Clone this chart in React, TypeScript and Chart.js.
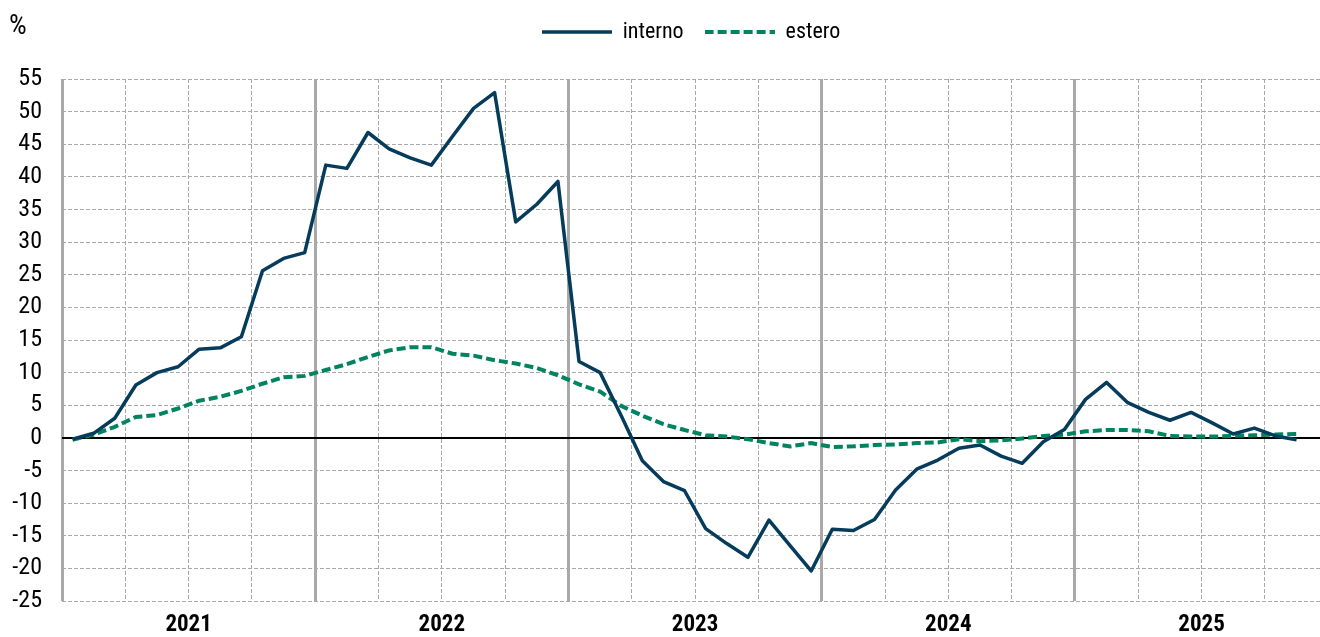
import React, { useEffect, useRef } from 'react';
import { Chart, registerables } from 'chart.js';

Chart.register(...registerables);

const FONT = "'Roboto Condensed', 'Liberation Sans', Arial, sans-serif";

// monthly observations, Jan 2021 .. Nov 2025
const yearLabels = ['2021', '2022', '2023', '2024', '2025'];

const interno = [
  -0.2, 0.7, 3.0, 8.1, 10.0, 10.9, 13.6, 13.8, 15.5, 25.6, 27.5, 28.4,
  41.8, 41.3, 46.8, 44.3, 42.9, 41.8, 46.2, 50.5, 52.9, 33.1, 35.8, 39.3,
  11.7, 10.0, 3.4, -3.5, -6.7, -8.1, -13.9, -16.2, -18.3, -12.6, -16.5, -20.4,
  -14.0, -14.2, -12.5, -8.0, -4.8, -3.4, -1.6, -1.1, -2.8, -3.9, -0.6, 1.3,
  5.9, 8.5, 5.4, 3.9, 2.7, 3.9, 2.3, 0.6, 1.5, 0.3, -0.3,
];

const estero = [
  -0.3, 0.5, 1.7, 3.2, 3.5, 4.5, 5.7, 6.3, 7.2, 8.3, 9.3, 9.5,
  10.4, 11.3, 12.4, 13.4, 13.9, 13.9, 12.9, 12.6, 11.9, 11.4, 10.7, 9.6,
  8.2, 7.1, 4.9, 3.4, 2.1, 1.2, 0.4, 0.2, -0.2, -0.8, -1.3, -0.8,
  -1.4, -1.3, -1.1, -1.0, -0.8, -0.7, -0.2, -0.5, -0.4, -0.1, 0.3, 0.5,
  1.0, 1.2, 1.2, 1.0, 0.3, 0.2, 0.2, 0.3, 0.4, 0.5, 0.6,
];

const seriesNames = ['interno', 'estero'];
const yMin = -25;
const yMax = 55;
const yStep = 5;

const GRID = '#a9a9a9';

function lineImage(color: string, width: number, dash: number[]) {
  const c = document.createElement('canvas');
  c.width = 70;
  c.height = 6;
  const g = c.getContext('2d')!;
  g.strokeStyle = color;
  g.lineWidth = width;
  g.setLineDash(dash);
  g.beginPath();
  g.moveTo(0, 3);
  g.lineTo(70, 3);
  g.stroke();
  return c;
}

export default function App() {
  const ref = useRef<HTMLCanvasElement | null>(null);

  useEffect(() => {
    if (!ref.current) return;
    const isYearLine = (v: number) => Math.round((v + 0.5) / 3) % 4 === 0;
    const chart = new Chart(ref.current, {
      type: 'line',
      data: {
        datasets: [
          {
            label: seriesNames[0],
            data: interno.map((v, i) => ({ x: i, y: v })),
            borderColor: '#053b5b',
            backgroundColor: '#053b5b',
            borderWidth: 3.5,
            pointRadius: 0,
            pointStyle: lineImage('#053b5b', 3.5, []),
            tension: 0,
            borderJoinStyle: 'round',
            fill: false,
          },
          {
            label: seriesNames[1],
            data: estero.map((v, i) => ({ x: i, y: v })),
            borderColor: '#00845f',
            backgroundColor: '#00845f',
            borderWidth: 4,
            borderDash: [9, 4],
            pointRadius: 0,
            pointStyle: lineImage('#00845f', 4, [9, 4]),
            tension: 0,
            fill: false,
          },
        ],
      },
      options: {
        animation: false,
        responsive: true,
        maintainAspectRatio: false,
        layout: { padding: 0 },
        plugins: {
          legend: {
            position: 'top',
            weight: 3000,
            fullSize: false,
            labels: {
              usePointStyle: true,
              pointStyleWidth: 70,
              padding: 21,
              color: '#000',
              font: { family: FONT, size: 22 },
            },
          },
          title: {
            display: true,
            text: '',
            padding: 0,
            font: { size: 26, lineHeight: 1 },
          },
          tooltip: { enabled: false },
        },
        scales: {
          x: {
            type: 'linear',
            min: -0.5,
            max: 59.11,
            afterBuildTicks: (s: any) => {
              const t: any[] = [];
              for (let k = 0; -0.5 + 3 * k <= 59; k++) t.push({ value: -0.5 + 3 * k });
              s.ticks = t;
            },
            afterFit: (s: any) => {
              s.height = 36;
            },
            ticks: {
              autoSkip: false,
              maxRotation: 0,
              padding: 10,
              color: '#000',
              font: { family: FONT, size: 23, weight: 'bold' },
              callback: (value: any) => {
                const k = Math.round((Number(value) + 0.5) / 3);
                return k % 4 === 2 ? yearLabels[(k - 2) / 4] ?? '' : '';
              },
            },
            grid: {
              drawTicks: false,
              color: GRID,
              lineWidth: (c: any) => (c.tick && isYearLine(c.tick.value) ? 3 : 1),
            },
            border: {
              display: false,
              dash: (c: any) => (c.tick && isYearLine(c.tick.value) ? [] : [4, 2]),
            },
          },
          y: {
            min: yMin,
            max: yMax,
            afterFit: (s: any) => {
              s.width = 62;
            },
            ticks: {
              stepSize: yStep,
              padding: 20,
              color: '#000',
              font: { family: FONT, size: 24 },
            },
            grid: {
              drawTicks: false,
              color: (c: any) => (c.tick && c.tick.value === 0 ? '#000' : GRID),
              lineWidth: (c: any) => (c.tick && c.tick.value === 0 ? 2 : 1),
            },
            border: {
              display: false,
              dash: (c: any) => (c.tick && c.tick.value === 0 ? [] : [4, 2]),
            },
          },
        },
      } as any,
    });
    return () => chart.destroy();
  }, []);

  return (
    <div style={{ position: 'absolute', left: 0, top: 0, width: 1320, height: 637, background: '#fff' }}>
      <canvas ref={ref} />
      <div
        style={{
          position: 'absolute',
          left: 9,
          top: 11,
          fontFamily: FONT,
          fontSize: 28,
          lineHeight: '28px',
          color: '#000',
        }}
      >
        %
      </div>
    </div>
  );
}
